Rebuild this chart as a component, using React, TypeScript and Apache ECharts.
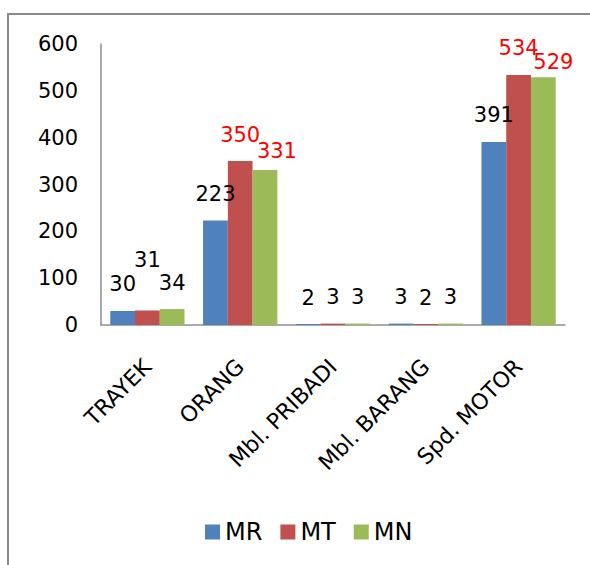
import React, { useEffect, useRef } from "react";
import * as echarts from "echarts";

// Vehicle categories and the three series
const categories = ["TRAYEK", "ORANG", "Mbl. PRIBADI", "Mbl. BARANG", "Spd. MOTOR"];
const seriesNames = ["MR", "MT", "MN"];
const mrValues = [30, 223, 2, 3, 391];
const mtValues = [31, 350, 3, 2, 534];
const mnValues = [34, 331, 3, 3, 529];

// Value axis range
const yMin = 0;
const yMax = 600;
const yStep = 100;

const FONT = "DejaVu Sans";
const colors = ["#4F81BD", "#C0504D", "#9BBB59"];

// Labels drawn in red, keyed by series index -> category indices
const redLabels: Record<number, number[]> = { 1: [1, 4], 2: [1, 4] };
// Labels nudged away from their neighbours: series -> category -> [dx, dy]
const labelNudges: Record<number, Record<number, [number, number]>> = {
  1: { 0: [0, -24] },
  2: { 1: [12, 8], 4: [10, 11] },
};

function buildData(values: number[], s: number) {
  return values.map((v, i) => {
    const red = (redLabels[s] || []).includes(i);
    const nudge = (labelNudges[s] || {})[i] || [0, 0];
    return {
      value: v,
      label: { color: red ? "#FF0000" : "#000000", offset: nudge },
    };
  });
}

export default function App() {
  const ref = useRef<HTMLDivElement>(null);

  useEffect(() => {
    if (!ref.current) return;
    const chart = echarts.init(ref.current, null, { renderer: "svg" });
    const all = [mrValues, mtValues, mnValues];

    chart.setOption({
      animation: false,
      backgroundColor: "#ffffff",
      color: colors,
      graphic: [
        {
          type: "rect",
          silent: true,
          shape: { x: 8, y: 14, width: 800, height: 800 },
          style: { fill: "none", stroke: "#8a8a8a", lineWidth: 2 },
        },
      ],
      legend: {
        data: seriesNames,
        left: 200,
        top: 515,
        icon: "rect",
        itemWidth: 15,
        itemHeight: 15,
        itemGap: 18,
        textStyle: { fontFamily: FONT, fontSize: 24, color: "#000" },
      },
      grid: { left: 101, top: 44, width: 464, height: 281 },
      xAxis: {
        type: "category",
        data: categories,
        axisLine: { show: true, lineStyle: { color: "#8e8e8e", width: 1.5 } },
        axisTick: { show: false },
        axisLabel: {
          interval: 0,
          rotate: 45,
          margin: 38,
          fontFamily: FONT,
          fontSize: 22,
          color: "#000",
        },
      },
      yAxis: {
        type: "value",
        min: yMin,
        max: yMax,
        interval: yStep,
        axisLine: { show: true, lineStyle: { color: "#8e8e8e", width: 1.5 } },
        axisTick: { show: false },
        splitLine: { show: false },
        axisLabel: { margin: 23, fontFamily: FONT, fontSize: 21, color: "#000" },
      },
      series: seriesNames.map((name, s) => ({
        name,
        type: "bar",
        barGap: "0%",
        barCategoryGap: "20%",
        data: buildData(all[s], s),
        label: {
          show: true,
          position: "top",
          distance: 16,
          fontFamily: FONT,
          fontSize: 21,
          lineHeight: 21,
          color: "#000",
        },
      })),
    });

    return () => chart.dispose();
  }, []);

  return (
    <div
      ref={ref}
      style={{ position: "absolute", left: 0, top: 0, width: 590, height: 565 }}
    />
  );
}
